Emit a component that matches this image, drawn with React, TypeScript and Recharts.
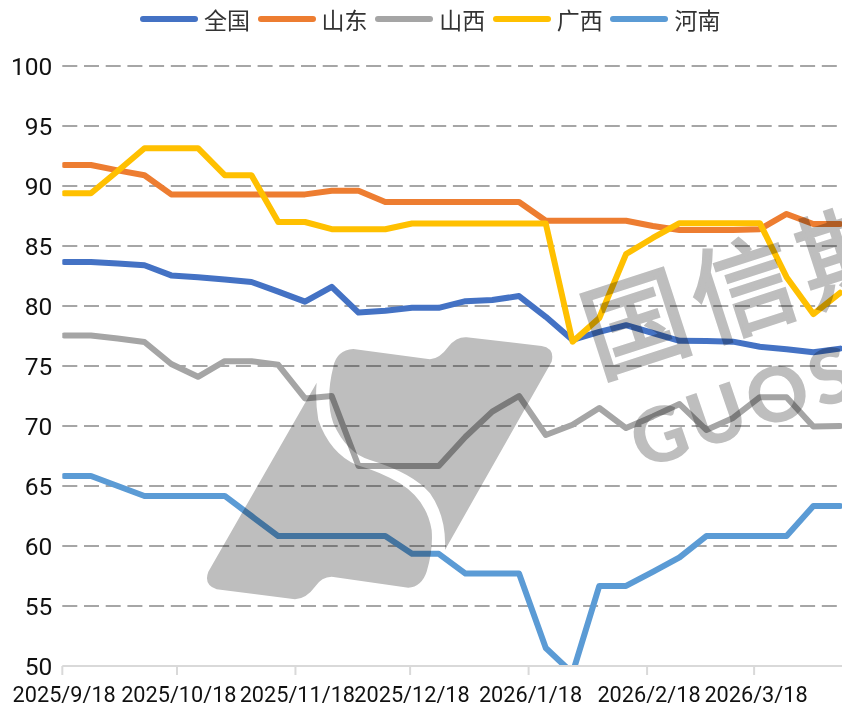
import React from "react";
import { LineChart, Line, XAxis, YAxis, CartesianGrid, Legend } from "recharts";

const dates = [
  "2025/9/18", "2025/9/25", "2025/10/2", "2025/10/9", "2025/10/16", "2025/10/23",
  "2025/10/30", "2025/11/6", "2025/11/13", "2025/11/20", "2025/11/27", "2025/12/4",
  "2025/12/11", "2025/12/18", "2025/12/25", "2026/1/1", "2026/1/8", "2026/1/15",
  "2026/1/22", "2026/1/29", "2026/2/5", "2026/2/12", "2026/2/19", "2026/2/26",
  "2026/3/5", "2026/3/12", "2026/3/19", "2026/3/26", "2026/4/2", "2026/4/9",
];

const quanguo = [
  83.67, 83.67, 83.55, 83.4, 82.55, 82.4, 82.2, 82.0, 81.2, 80.36,
  81.6, 79.45, 79.6, 79.85, 79.85, 80.4, 80.5, 80.83, 79.1, 77.17,
  77.85, 78.4, 77.75, 77.1, 77.08, 77.03, 76.6, 76.4, 76.15, 76.45,
];
const shandong = [
  91.75, 91.75, 91.3, 90.9, 89.3, 89.3, 89.3, 89.3, 89.3, 89.3,
  89.6, 89.6, 88.67, 88.67, 88.67, 88.67, 88.67, 88.67, 87.1, 87.1,
  87.1, 87.1, 86.67, 86.33, 86.33, 86.33, 86.4, 87.67, 86.83, 86.83,
];
const shanxi = [
  77.55, 77.55, 77.3, 77.0, 75.17, 74.1, 75.4, 75.4, 75.1, 72.3,
  72.5, 66.67, 66.67, 66.67, 66.67, 69.1, 71.2, 72.5, 69.25, 70.1,
  71.5, 69.83, 70.8, 71.83, 69.67, 70.67, 72.4, 72.4, 69.95, 70.0,
];
const guangxi = [
  89.4, 89.4, 91.25, 93.15, 93.15, 93.15, 90.9, 90.9, 87.0, 87.0,
  86.4, 86.4, 86.4, 86.87, 86.87, 86.87, 86.87, 86.87, 86.87, 77.03,
  79.0, 84.33, 85.67, 86.9, 86.9, 86.9, 86.9, 82.4, 79.33, 81.1,
];
const henan = [
  65.83, 65.83, 65.0, 64.17, 64.17, 64.17, 64.17, 62.5, 60.83, 60.83,
  60.83, 60.83, 60.83, 59.35, 59.35, 57.7, 57.7, 57.7, 51.5, 49.4,
  56.67, 56.67, 57.85, 59.05, 60.83, 60.83, 60.83, 60.83, 63.33, 63.33,
];

const tickDates = [
  "2025/9/18", "2025/10/18", "2025/11/18", "2025/12/18", "2026/1/18", "2026/2/18", "2026/3/18",
];
const yTicks = [50, 55, 60, 65, 70, 75, 80, 85, 90, 95, 100];
const gridValues = yTicks.slice(1);

const series = [
  { key: "全国", values: quanguo, color: "#4472C4" },
  { key: "山东", values: shandong, color: "#ED7D31" },
  { key: "山西", values: shanxi, color: "#A5A5A5" },
  { key: "广西", values: guangxi, color: "#FFC000" },
  { key: "河南", values: henan, color: "#5B9BD5" },
];

const dayOf = (s: string) => {
  const [y, m, d] = s.split("/").map(Number);
  return (Date.UTC(y, m - 1, d) - Date.UTC(2025, 8, 18)) / 86400000;
};

const data = dates.map((date, i) => {
  const row: Record<string, number | string> = { day: dayOf(date), date };
  series.forEach((s) => (row[s.key] = s.values[i]));
  return row;
});

const labelByDay = new Map(tickDates.map((d) => [dayOf(d), d]));

const DateTick = ({ x, y, payload }: any) => (
  <g>
    <line x1={x - 1.9} x2={x - 1.9} y1={y - 8} y2={y + 1} stroke="#D9D9D9" strokeWidth={2} />
    <text x={x} y={y + 28} textAnchor="middle" fontSize={21.7} fill="#111">
      {labelByDay.get(payload.value)}
    </text>
  </g>
);

const LegendRow = ({ payload }: any) => (
  <div style={{ position: "relative", height: 40 }}>
    {(payload || []).map((p: any, i: number) => (
      <div key={p.value} style={{ position: "absolute", left: 140 + i * 117.6, top: 3, display: "flex", alignItems: "center" }}>
        <span style={{ display: "block", width: 58, height: 6, borderRadius: 3, background: p.color }} />
        <span style={{ marginLeft: 6, fontSize: 23, lineHeight: "32px", color: "#333", fontFamily: '"Noto Sans CJK SC"' }}>
          {p.value}
        </span>
      </div>
    ))}
  </div>
);

const App = () => {
  return (
    <div style={{ position: "absolute", left: 0, top: 0, width: 842, height: 707, overflow: "hidden", background: "#fff", fontFamily: "Roboto" }}>
      <LineChart
        width={842}
        height={707}
        data={data}
        margin={{ top: 26, right: 0, bottom: 0, left: 0 }}
      >
        <CartesianGrid
          vertical={false}
          horizontalValues={gridValues}
          stroke="#A6A6A6"
          strokeWidth={2}
          strokeDasharray="15 6.7"
        />
        <XAxis
          dataKey="day"
          type="number"
          domain={[-0.5, 203.5]}
          ticks={tickDates.map(dayOf)}
          interval={0}
          height={41}
          axisLine={{ stroke: "#D9D9D9", strokeWidth: 2 }}
          tickLine={false}
          tick={<DateTick />}
          allowDataOverflow
        />
        <YAxis
          domain={[50, 100]}
          ticks={yTicks}
          interval={0}
          width={62.3}
          axisLine={false}
          tickLine={false}
          tick={{ fontSize: 24.5, fill: "#111" }}
          tickMargin={4}
          allowDataOverflow
        />
        <Legend verticalAlign="top" content={<LegendRow />} wrapperStyle={{ position: "absolute", left: 0, top: 0, width: 842 }} />
        {series.map((s) => (
          <Line
            key={s.key}
            dataKey={s.key}
            stroke={s.color}
            strokeWidth={6}
            strokeLinejoin="round"
            strokeLinecap="round"
            dot={false}
            isAnimationActive={false}
          />
        ))}
      </LineChart>
      {/* watermark, sits over the lines and darkens them */}
      <svg
        width={842}
        height={707}
        style={{ position: "absolute", left: 0, top: 0, mixBlendMode: "multiply", pointerEvents: "none" }}
      >
        <g transform="translate(200 330) scale(0.3333)" fill="#BEBEBE">
          <path d="M460 57 L690 88 Q720 85 745 50 Q770 20 800 22 L1025 48 Q1065 55 1055 95 L735 660 Q740 560 690 490 Q640 430 510 390 Q440 370 400 280 Q375 210 400 110 Q410 60 460 57 Z" />
          <path d="M350 158 L25 725 Q10 765 50 778 L285 808 Q320 805 345 770 Q365 740 395 740 L625 773 Q665 770 680 725 Q700 660 695 600 Q680 510 600 460 Q540 425 470 405 Q390 370 355 270 Q345 210 350 158 Z" />
        </g>
        <text
          transform="translate(598 376) rotate(-18)"
          fontFamily='"Noto Sans CJK SC"'
          fontSize={104}
          fontWeight={400}
          stroke="#BEBEBE"
          strokeWidth={3}
          letterSpacing={9}
          fill="#BEBEBE"
        >
          国信期
        </text>
        <text
          transform="translate(642 470) rotate(-19)"
          fontFamily="Lato"
          fontSize={76}
          fontWeight={900}
          letterSpacing={5}
          fill="#BEBEBE"
        >
          GUOS
        </text>
      </svg>
    </div>
  );
};

export default App;
